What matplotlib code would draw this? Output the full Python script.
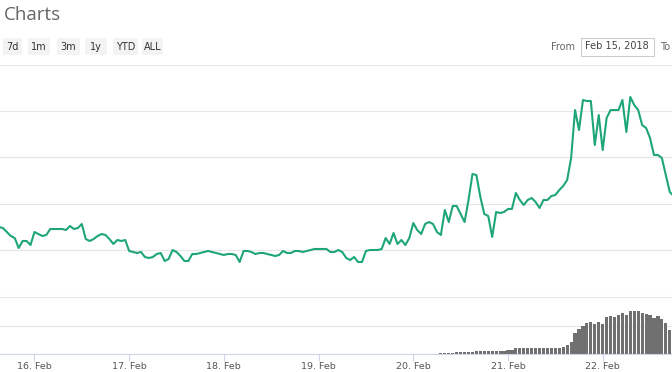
import matplotlib
matplotlib.use("Agg")
import matplotlib.pyplot as plt
from matplotlib.patches import FancyBboxPatch, Rectangle
import numpy as np
import pandas as pd

# Hourly price, starting 15 Feb 2018 15:00 (arbitrary units, axis labels are cropped out)
price = [
    69, 68, 64, 60, 58, 48, 55, 55, 51, 64, 62, 60, 61, 67, 67, 67, 67, 66, 70, 67,
    68, 72, 57, 55, 57, 60, 62, 61, 57, 52, 56, 55, 56, 45, 44, 43, 44, 39, 38, 39,
    42, 43, 35, 37, 46, 44, 40, 35, 35, 42, 42, 43, 44, 45, 44, 43, 42, 41, 42, 42,
    41, 34, 45, 45, 44, 42, 43, 43, 42, 41, 40, 41, 45, 43, 43, 45, 45, 44, 45, 46,
    47, 47, 47, 47, 44, 44, 46, 44, 38, 36, 39, 34, 34, 45, 46, 46, 46, 47, 58, 52,
    63, 52, 56, 51, 58, 73, 66, 62, 72, 74, 72, 64, 61, 86, 74, 90, 90, 82, 74, 96,
    122, 121, 99, 82, 80, 59, 84, 83, 84, 87, 87, 103, 96, 91, 96, 98, 94, 88, 96, 96,
    100, 101, 106, 110, 116, 138, 186, 166, 196, 195, 195, 151, 181, 146, 178, 186, 186, 186, 196, 164,
    199, 191, 186, 171, 168, 158, 141, 141, 138, 121, 104, 100,
]

# Hourly volume, starting 20 Feb 2018 07:00
volume = [
    1, 1, 1, 1, 2, 2, 2, 2, 2, 3, 3, 3, 3, 3, 3, 3, 3, 4, 4, 6,
    6, 6, 6, 6, 6, 6, 6, 6, 6, 6, 6, 7, 9, 12, 21, 25, 28, 31, 32, 30,
    32, 30, 37, 38, 37, 39, 41, 39, 43, 43, 43, 41, 40, 39, 36, 38, 35, 31, 24,
]

day_labels = ["16. Feb", "17. Feb", "18. Feb", "19. Feb", "20. Feb", "21. Feb", "22. Feb"]
range_buttons = ["7d", "1m", "3m", "1y", "YTD", "ALL"]

price_time = pd.date_range("2018-02-15 15:00", periods=len(price), freq="h")
volume_time = pd.date_range("2018-02-20 07:00", periods=len(volume), freq="h")
day_ticks = pd.date_range("2018-02-16", periods=len(day_labels), freq="D")
x_range = (pd.Timestamp("2018-02-15 15:16"), pd.Timestamp("2018-02-22 17:34"))

W, H = 672, 372
fig = plt.figure(figsize=(W / 100, H / 100), dpi=100)
fig.patch.set_facecolor("white")


def fx(px):
    return px / W


def fy(py):
    return 1 - py / H


grid_color = "#e6e6e6"
axis_color = "#ccd6eb"

# Price panel
ax = fig.add_axes([0, fy(296), 1, fy(65) - fy(296)])
ax.plot(price_time, price, color="#1ea67a", lw=1.5, solid_joinstyle="round")
ax.set_xlim(x_range)
ax.set_ylim(0, 231)
ax.set_yticks(np.linspace(0, 231, 6))
ax.yaxis.grid(True, color=grid_color, lw=0.8)
ax.set_axisbelow(True)
ax.tick_params(left=False, labelleft=False, bottom=False, labelbottom=False)
for s in ax.spines.values():
    s.set_visible(False)
ax.patch.set_alpha(0)

# Volume panel
axv = fig.add_axes([0, fy(354), 1, fy(297) - fy(354)])
axv.bar(volume_time, volume, width=0.8 / 24, color="#707070", edgecolor="none")
axv.set_xlim(x_range)
axv.set_ylim(0, 57)
axv.set_yticks([0, 28.5, 57])
axv.yaxis.grid(True, color=grid_color, lw=0.8)
axv.set_axisbelow(True)
axv.set_xticks(day_ticks)
axv.set_xticklabels(day_labels)
axv.tick_params(axis="y", left=False, labelleft=False)
axv.tick_params(axis="x", length=5, width=0.8, color=axis_color,
                labelsize=6.8, labelcolor="#555555", pad=0.5)
for name, s in axv.spines.items():
    s.set_visible(name == "bottom")
axv.spines["bottom"].set_color(axis_color)
axv.spines["bottom"].set_linewidth(0.8)
axv.patch.set_alpha(0)

# Header: title, range buttons, date input
fig.text(fx(4), fy(15), "Charts", fontsize=13.5, color="#666666",
         family="Open Sans", va="center", ha="left")

button_edges = [(3, 22), (28, 50), (57, 80), (85, 107), (113, 138), (142, 163)]
for label, (x0, x1) in zip(range_buttons, button_edges):
    fig.patches.append(FancyBboxPatch((fx(x0), fy(55)), fx(x1 - x0), fy(38) - fy(55),
                                      boxstyle="round,pad=0,rounding_size=0.004",
                                      transform=fig.transFigure, facecolor="#f3f3f3",
                                      edgecolor="none"))
    fig.text(fx((x0 + x1) / 2), fy(46.5), label, fontsize=7, color="#333333",
             ha="center", va="center")

fig.text(fx(563), fy(46.5), "From", fontsize=7, color="#666666", ha="center", va="center")
fig.patches.append(Rectangle((fx(580.5), fy(56)), fx(73), fy(38) - fy(56),
                             transform=fig.transFigure, facecolor="white",
                             edgecolor="#cccccc", lw=0.8))
fig.text(fx(616.5), fy(46.5), "Feb 15, 2018", fontsize=7, color="#444444",
         ha="center", va="center")
fig.text(fx(660), fy(46.5), "To", fontsize=7, color="#666666", ha="left", va="center")

fig.savefig("out.png", dpi=100, facecolor="white")
